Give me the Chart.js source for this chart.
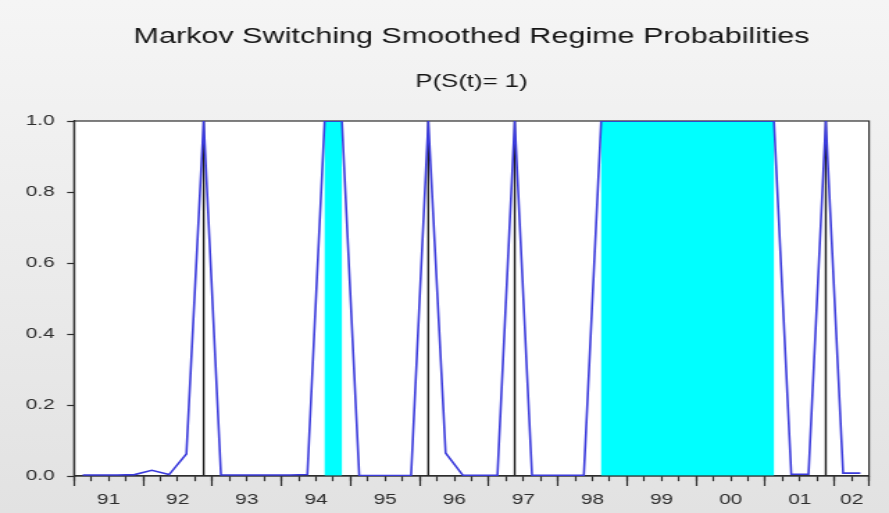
<!DOCTYPE html>
<html>
<head>
<meta charset="utf-8">
<style>
html,body{margin:0;padding:0;width:889px;height:513px;overflow:hidden;background:linear-gradient(to bottom,#f5f5f5,#e2e2e2);}
#c{display:block;}
</style>
<script src="https://cdn.jsdelivr.net/npm/chart.js@4.4.1/dist/chart.umd.min.js"></script>
</head>
<body>
<canvas id="c" width="640" height="513" style="width:889px;height:513px"></canvas>
<script>
// ---- data ----
const quarters = [
  '1991Q1','1991Q2','1991Q3','1991Q4',
  '1992Q1','1992Q2','1992Q3','1992Q4',
  '1993Q1','1993Q2','1993Q3','1993Q4',
  '1994Q1','1994Q2','1994Q3','1994Q4',
  '1995Q1','1995Q2','1995Q3','1995Q4',
  '1996Q1','1996Q2','1996Q3','1996Q4',
  '1997Q1','1997Q2','1997Q3','1997Q4',
  '1998Q1','1998Q2','1998Q3','1998Q4',
  '1999Q1','1999Q2','1999Q3','1999Q4',
  '2000Q1','2000Q2','2000Q3','2000Q4',
  '2001Q1','2001Q2','2001Q3','2001Q4',
  '2002Q1','2002Q2'
];
const probRegime1 = [
  0.003,0.003,0.003,0.004,
  0.016,0.004,0.062,1.000,
  0.003,0.003,0.003,0.003,
  0.003,0.004,1.000,1.000,
  0.001,0.001,0.001,0.001,
  1.000,0.065,0.002,0.002,
  0.002,1.000,0.002,0.002,
  0.002,0.002,1.000,1.000,
  1.000,1.000,1.000,1.000,
  1.000,1.000,1.000,1.000,
  1.000,0.005,0.005,1.000,
  0.008,0.008
];
const shadedSpans = [['1994Q3','1994Q4'],['1998Q3','2001Q1']];
const shadedSingle = ['1992Q4','1996Q1','1997Q2','2001Q4'];
const yearLabels = ['91','92','93','94','95','96','97','98','99','00','01','02'];
const yTickValues = [0.0,0.2,0.4,0.6,0.8,1.0];
const titleText = 'Markov Switching Smoothed Regime Probabilities';
const subtitleText = 'P(S(t)= 1)';

// ---- helpers ----
const qIdx = q => quarters.indexOf(q);
const fullYear = l => (parseInt(l,10) < 50 ? '20' : '19') + l;
const yearCenter = l => {
  const idx = quarters.map((q,i)=>q.startsWith(fullYear(l))?i:-1).filter(i=>i>=0);
  return (idx[0] + idx[idx.length-1]) / 2;
};
const yearStart = l => quarters.findIndex(q=>q.startsWith(fullYear(l))) - 0.5;

const AX = '#2e2e2e';
const FONT = "'Liberation Sans', Arial, sans-serif";
const xMin = -0.5, xMax = quarters.length - 0.5;

const shadePlugin = {
  id: 'shade',
  beforeDraw(chart) {
    const {ctx, chartArea: a} = chart;
    ctx.save();
    ctx.fillStyle = '#ffffff';
    ctx.fillRect(a.left, a.top, a.right - a.left, a.bottom - a.top);
    ctx.restore();
  },
  beforeDatasetsDraw(chart) {
    const {ctx, chartArea: a, scales: {x, y}} = chart;
    const yt = y.getPixelForValue(1), yb = y.getPixelForValue(0);
    ctx.save();
    ctx.fillStyle = '#00ffff';
    shadedSpans.forEach(([s, e]) => {
      const x1 = x.getPixelForValue(qIdx(s)), x2 = x.getPixelForValue(qIdx(e));
      ctx.fillRect(x1, yt, x2 - x1, yb - yt);
    });
    ctx.strokeStyle = '#1a1a1a';
    ctx.lineWidth = 1.4;
    shadedSingle.forEach(q => {
      const px = x.getPixelForValue(qIdx(q));
      ctx.beginPath(); ctx.moveTo(px, yt); ctx.lineTo(px, yb); ctx.stroke();
    });
    ctx.strokeStyle = AX;
    ctx.lineWidth = 1.2;
    ctx.strokeRect(a.left, a.top, a.right - a.left, a.bottom - a.top);
    ctx.restore();
  }
};

new Chart(document.getElementById('c'), {
  type: 'line',
  data: {
    labels: quarters,
    datasets: [{
      label: 'P(S(t)= 1)',
      data: probRegime1.map((v, i) => ({x: i, y: v})),
      xAxisID: 'x', yAxisID: 'y',
      borderColor: '#3b3bdc',
      borderWidth: 1.6,
      pointRadius: 0,
      tension: 0,
      fill: false
    }]
  },
  options: {
    responsive: false,
    devicePixelRatio: 1,
    animation: false,
    events: [],
    layout: {padding: {left: 0, right: 14.4, top: 0, bottom: 37}},
    plugins: {
      legend: {display: false},
      tooltip: {enabled: false},
      title: {
        display: true, text: titleText, fullSize: false,
        color: '#161616', font: {family: FONT, size: 22, weight: 'normal'},
        padding: {top: 23.5, bottom: 0}
      },
      subtitle: {
        display: true, text: subtitleText, fullSize: false,
        color: '#161616', font: {family: FONT, size: 18.5, weight: 'normal'},
        padding: {top: 21.2, bottom: 27.7}
      }
    },
    scales: {
      y: {
        type: 'linear', position: 'left', min: 0, max: 1,
        afterBuildTicks: s => { s.ticks = yTickValues.map(v => ({value: v})); },
        afterFit: s => { s.width = 53.3; },
        ticks: {color: AX, font: {family: FONT, size: 15}, padding: 9, callback: v => Number(v).toFixed(1)},
        grid: {drawOnChartArea: false, tickLength: 5, tickColor: AX, tickWidth: 1.2},
        border: {color: AX, width: 1.2}
      },
      x: {
        type: 'linear', axis: 'x', position: {y: 0}, min: xMin, max: xMax,
        afterBuildTicks: s => {
          s.ticks = quarters.map((q, i) => ({value: i - 0.5})).concat([{value: xMax}]);
        },
        ticks: {display: false, autoSkip: false},
        grid: {drawOnChartArea: false, tickLength: 5, tickColor: AX, tickWidth: 1.2},
        border: {color: AX, width: 1.2}
      },
      xMajor: {
        type: 'linear', axis: 'x', position: {y: 0}, min: xMin, max: xMax,
        afterBuildTicks: s => { s.ticks = yearLabels.map(l => ({value: yearStart(l)})).concat([{value: xMax}]); },
        ticks: {display: false, autoSkip: false},
        grid: {drawOnChartArea: false, tickLength: 10, tickColor: AX, tickWidth: 1.2},
        border: {display: false}
      },
      xYear: {
        type: 'linear', axis: 'x', position: {y: 0}, min: xMin, max: xMax,
        afterBuildTicks: s => { s.ticks = yearLabels.map(l => ({value: yearCenter(l)})); },
        ticks: {color: AX, font: {family: FONT, size: 15}, padding: 15, autoSkip: false, maxRotation: 0,
                callback: (v, i) => yearLabels[i]},
        grid: {drawOnChartArea: false, drawTicks: false},
        border: {display: false}
      }
    }
  },
  plugins: [shadePlugin]
});
</script>
</body>
</html>
